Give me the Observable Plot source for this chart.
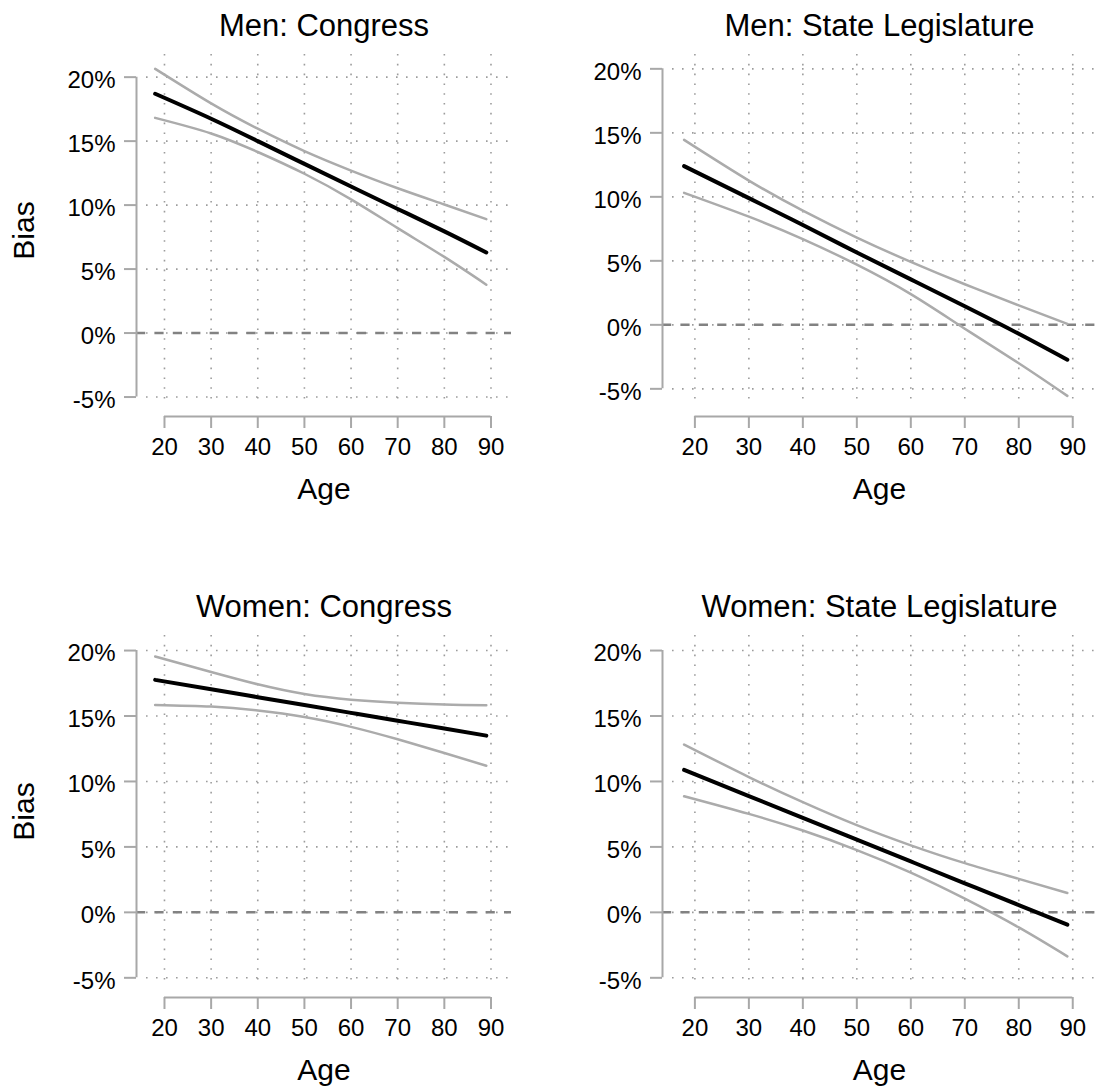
<!DOCTYPE html>
<html>
<head>
<meta charset="utf-8">
<script src="https://cdn.jsdelivr.net/npm/d3@7"></script>
<script src="https://cdn.jsdelivr.net/npm/@observablehq/plot@0.6"></script>
<style>
  html, body { margin: 0; padding: 0; background: #fff; }
  #chart { position: relative; width: 1097px; height: 1091px; }
  #chart svg { position: absolute; overflow: visible; }
</style>
</head>
<body>
<div id="chart"></div>
<script>
// Ages at which the predicted bias and its confidence band are given
const ages = [18, 30, 40, 50, 60, 70, 80, 89];

// Men: Congress (percent)
const menCongressFit   = [18.70, 16.75, 15.00, 13.22, 11.45, 9.70, 7.95, 6.30];
const menCongressLower = [16.82, 15.60, 14.15, 12.45, 10.45, 8.20, 5.95, 3.78];
const menCongressUpper = [20.65, 17.95, 15.97, 14.22, 12.70, 11.32, 10.05, 8.90];

// Men: State Legislature
const menStateFit   = [12.40, 9.90, 7.80, 5.65, 3.55, 1.45, -0.70, -2.73];
const menStateLower = [10.31, 8.45, 6.70, 4.70, 2.40, -0.30, -3.00, -5.55];
const menStateUpper = [14.45, 11.27, 8.92, 6.82, 4.92, 3.17, 1.52, 0.08];

// Women: Congress
const womenCongressFit   = [17.76, 17.04, 16.44, 15.84, 15.24, 14.64, 14.04, 13.50];
const womenCongressLower = [15.85, 15.72, 15.42, 14.92, 14.17, 13.22, 12.17, 11.20];
const womenCongressUpper = [19.54, 18.36, 17.42, 16.68, 16.25, 16.02, 15.88, 15.82];

// Women: State Legislature
const womenStateFit   = [10.88, 8.88, 7.22, 5.55, 3.89, 2.22, 0.56, -0.94];
const womenStateLower = [8.87, 7.52, 6.25, 4.76, 3.04, 1.05, -1.15, -3.36];
const womenStateUpper = [12.82, 10.34, 8.42, 6.66, 5.12, 3.76, 2.56, 1.48];

const panelTitles = ["Men: Congress", "Men: State Legislature", "Women: Congress", "Women: State Legislature"];
const xTicks = [20, 30, 40, 50, 60, 70, 80, 90];
const yTicks = [-5, 0, 5, 10, 15, 20];
const xLabel = "Age";
const yLabel = "Bias";

// Panel layout: where each small multiple sits and its visible value window
const layout = [
  {left: 0,   top: 0,   width: 548, height: 581, marginLeft: 136, marginRight: 37, marginBottom: 175, yDomain: [-5.74, 21.77], yAxisTitle: true},
  {left: 548, top: 0,   width: 549, height: 581, marginLeft: 114, marginRight: 1,  marginBottom: 175, yDomain: [-6.38, 21.12], yAxisTitle: false},
  {left: 0,   top: 581, width: 548, height: 510, marginLeft: 136, marginRight: 37, marginBottom: 104, yDomain: [-5.74, 21.15], yAxisTitle: true},
  {left: 548, top: 581, width: 549, height: 510, marginLeft: 114, marginRight: 1,  marginBottom: 104, yDomain: [-5.74, 21.15], yAxisTitle: false}
];

const series = [
  [menCongressFit, menCongressLower, menCongressUpper],
  [menStateFit, menStateLower, menStateUpper],
  [womenCongressFit, womenCongressLower, womenCongressUpper],
  [womenStateFit, womenStateLower, womenStateUpper]
];

const xDomain = [14, 94.4];
const axisGray = "#a8a8a8";
const bandGray = "#ababab";
const gridGray = "#9c9c9c";
const font = "'Liberation Sans', Arial, Helvetica, sans-serif";

const chart = document.getElementById("chart");

layout.forEach((p, k) => {
  const [fit, lower, upper] = series[k];
  const rows = ages.map((age, i) => ({age, fit: fit[i], lower: lower[i], upper: upper[i]}));

  const marks = [
    // dotted reference grid
    Plot.gridX({ticks: xTicks, stroke: gridGray, strokeOpacity: 1, strokeWidth: 1.6, strokeDasharray: "1.6,8.2"}),
    Plot.gridY({ticks: yTicks, stroke: gridGray, strokeOpacity: 1, strokeWidth: 1.6, strokeDasharray: "1.6,8.4", insetLeft: 10}),
    // zero line
    Plot.ruleY([0], {stroke: "#828282", strokeWidth: 2.5, strokeDasharray: "9.2,9.2"}),
    // y axis: line, ticks, labels
    Plot.ruleX([xDomain[0]], {y1: yTicks[0], y2: yTicks[yTicks.length - 1], stroke: axisGray, strokeWidth: 2}),
    Plot.axisY({ticks: yTicks, tickSize: 12, tickFormat: () => "", label: null, stroke: axisGray, strokeWidth: 2}),
    Plot.axisY({ticks: yTicks, tickSize: 0, tickPadding: 21, dy: 3, tickFormat: d => `${d}%`, label: null, fontSize: 24, fill: "black"}),
    // x axis, set below the plotting area
    Plot.ruleY([p.yDomain[0]], {x1: xTicks[0], x2: xTicks[xTicks.length - 1], dy: 10, stroke: axisGray, strokeWidth: 2}),
    Plot.axisX({ticks: xTicks, tickSize: 12, tickPadding: 9, dy: 10, label: null, fontSize: 24, stroke: axisGray, strokeWidth: 2, fill: "black"}),
    // confidence band edges and the fitted line
    Plot.line(rows, {x: "age", y: "upper", stroke: bandGray, strokeWidth: 2.5, curve: "natural"}),
    Plot.line(rows, {x: "age", y: "lower", stroke: bandGray, strokeWidth: 2.5, curve: "natural"}),
    Plot.line(rows, {x: "age", y: "fit", stroke: "black", strokeWidth: 4, curve: "natural"}),
    // titles
    Plot.text([panelTitles[k]], {frameAnchor: "top", dy: -19, lineAnchor: "bottom", fontSize: 31, fill: "black"}),
    Plot.text([xLabel], {frameAnchor: "bottom", dy: 92, lineAnchor: "bottom", fontSize: 30, fill: "black"})
  ];
  if (p.yAxisTitle) {
    marks.push(Plot.text([yLabel], {frameAnchor: "left", rotate: -90, dx: -102.7, lineAnchor: "bottom", textAnchor: "middle", fontSize: 30, fill: "black"}));
  }

  const svg = Plot.plot({
    width: p.width,
    height: p.height,
    marginTop: 54,
    marginBottom: p.marginBottom,
    marginLeft: p.marginLeft,
    marginRight: p.marginRight,
    x: {domain: xDomain},
    y: {domain: p.yDomain},
    style: {fontFamily: font, background: "transparent", color: "black", overflow: "visible"},
    marks
  });
  svg.style.left = `${p.left}px`;
  svg.style.top = `${p.top}px`;
  chart.appendChild(svg);
});
</script>
</body>
</html>
